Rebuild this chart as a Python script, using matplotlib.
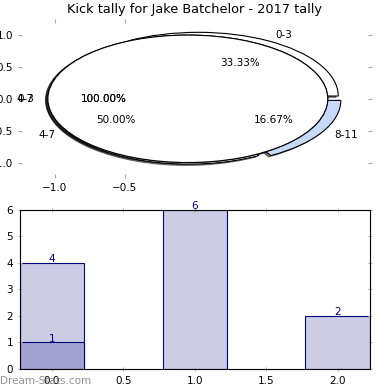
import matplotlib
matplotlib.use("Agg")
import matplotlib.pyplot as plt

# kick tally data
ranges = ['0-3', '4-7', '8-11']
kicks = [4, 6, 2]
pie_colors = ['white', 'white', '#c6d9fb']
whole_labels = ['0-3', '4-7']

bar_x = [0, 1, 2]
bar_total = [4, 6, 2]
bar_low_x = [0]
bar_low = [1]

fig = plt.figure(figsize=(3.9, 3.9), dpi=100)

shadow = dict(ox=-0.012, oy=-0.015, shade=0.95)

# pie on top
ax1 = fig.add_axes([0.051, 0.549, 0.897, 0.397])
ax1.pie(kicks, labels=ranges, colors=pie_colors, explode=[0.05] * 3,
        autopct='%.2f%%', startangle=0, shadow=shadow,
        wedgeprops=dict(edgecolor='black', linewidth=0.8),
        textprops=dict(fontsize=7.5))
for lab in whole_labels:
    ax1.pie([1], labels=[lab], colors=['white'], explode=[0.05], autopct='%.2f%%',
            startangle=0, shadow=shadow,
            wedgeprops=dict(edgecolor='black', linewidth=0.8),
            textprops=dict(fontsize=7.5))
ax1.set_aspect('auto')
ax1.set_xlim(-1.25, 1.25)
ax1.set_ylim(-1.21, 1.22)
ax1.set_xticks([-1.0, -0.5])
ax1.set_yticks([-1.0, -0.5, 0.0, 0.5, 1.0])
ax1.tick_params(labelsize=7.5, color='#aaaaaa', length=3, direction='inout',
                top=True, right=True)
ax1.set_title('Kick tally for Jake Batchelor - 2017 tally', fontsize=9.3)

# bars below
ax2 = fig.add_axes([0.051, 0.054, 0.897, 0.408])
ax2.bar(bar_x, bar_total, width=0.45, color='#ccccE5', edgecolor='navy', linewidth=0.8)
ax2.bar(bar_low_x, bar_low, width=0.45, color='#a3a3d1', edgecolor='navy', linewidth=0.8)
for x, v in zip(bar_x + bar_low_x, bar_total + bar_low):
    ax2.text(x, v - 0.05, str(v), ha='center', va='bottom', color='navy', fontsize=7.5)
ax2.set_xlim(-0.225, 2.225)
ax2.set_ylim(0, 6)
ax2.tick_params(labelsize=7.5, color='#aaaaaa', length=3, direction='inout',
                top=True, right=True)

fig.text(0.0, 0.015, 'Dream-Stats.com', fontsize=7.5, color='gray', alpha=0.85)

fig.savefig('out.png', dpi=100)
